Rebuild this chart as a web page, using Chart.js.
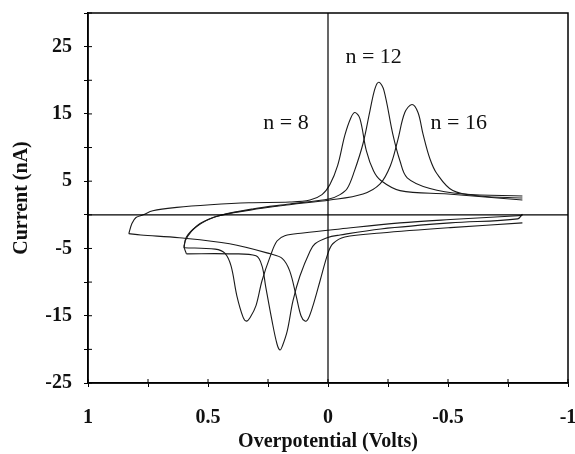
<!DOCTYPE html>
<html>
<head>
<meta charset="utf-8">
<script src="https://cdn.jsdelivr.net/npm/chart.js@4"></script>
<style>
  html, body { margin: 0; padding: 0; background: #fff; }
  #wrap { width: 575px; height: 454px; }
</style>
</head>
<body>
<div id="wrap"><canvas id="cv"></canvas></div>
<script>
// Cyclic voltammograms (overpotential V, current nA)
// each scan is kept as an upper (oxidation) and a lower (reduction) branch

// n = 8
const n8UpV = [0.83, 0.817, 0.80, 0.77, 0.73, 0.63, 0.49, 0.33, 0.16, 0.075, 0.025, -0.008, -0.04, -0.07, -0.095, -0.1125,
               -0.133, -0.16, -0.19, -0.22, -0.30, -0.50, -0.81];
const n8UpI = [-2.8, -1.3, -0.4, 0.0, 0.6, 1.1, 1.5, 1.8, 1.9, 2.2, 3.0, 4.5, 7.3, 11.8, 14.4, 15.2,
               14.3, 9.5, 6.5, 5.1, 3.6, 3.1, 2.2];
const n8DnV = [-0.81, -0.51, -0.22, -0.07, -0.02, 0.0, 0.033, 0.0625, 0.083, 0.096, 0.1125, 0.133, 0.16, 0.19, 0.24, 0.41, 0.62, 0.78, 0.83];
const n8DnI = [-1.2, -1.9, -2.7, -3.3, -4.3, -5.7, -9.8, -13.5, -15.5, -15.8, -15.0, -12.0, -8.3, -6.5, -5.8, -4.3, -3.4, -3.0, -2.8];

// n = 12
const n12UpV = [0.59, 0.60, 0.583, 0.533, 0.45, 0.31, 0.16, -0.008, -0.05, -0.08, -0.11, -0.146, -0.175, -0.196, -0.2125,
                -0.233, -0.27, -0.30, -0.33, -0.425, -0.5625, -0.81];
const n12UpI = [-5.8, -4.6, -3.1, -1.3, -0.1, 0.9, 1.6, 2.4, 3.0, 3.9, 6.5, 10.6, 15.5, 18.8, 19.7,
                18.5, 12.0, 8.0, 5.5, 3.9, 3.1, 2.8];
const n12DnV = [-0.81, -0.79, -0.51, -0.22, -0.05, 0.004, 0.054, 0.075, 0.117, 0.146, 0.17, 0.19, 0.20, 0.2125, 0.233, 0.26, 0.275, 0.30, 0.41, 0.59];
const n12DnI = [0.1, -0.6, -1.2, -2.1, -3.0, -3.4, -4.3, -5.4, -9.1, -12.8, -17.3, -19.5, -20.1, -19.2, -15.8, -10.6, -7.6, -6.1, -5.8, -5.8];

// n = 16
const n16UpV = [0.60, 0.59, 0.55, 0.47, 0.325, 0.16, -0.008, -0.146, -0.217, -0.26, -0.29, -0.32, -0.35,
                -0.375, -0.396, -0.425, -0.454, -0.52, -0.633, -0.81];
const n16UpI = [-4.9, -3.3, -1.8, -0.3, 0.7, 1.5, 2.2, 3.1, 4.6, 7.3, 11.0, 15.2, 16.4,
                15.2, 12.0, 8.3, 6.1, 3.6, 2.8, 2.5];
const n16DnV = [-0.81, -0.51, -0.30, -0.05, 0.104, 0.18, 0.2125, 0.24, 0.275, 0.30, 0.325, 0.34, 0.354, 0.38, 0.404, 0.43, 0.47, 0.60];
const n16DnI = [-0.1, -0.7, -1.2, -2.1, -2.7, -3.1, -3.9, -6.1, -9.8, -13.5, -15.3, -15.8, -15.2, -12.0, -7.6, -5.7, -5.1, -4.9];

// curve labels, placed in data units
const labelText = ['n = 8', 'n = 12', 'n = 16'];
const labelV = [0.175, -0.19, -0.545];
const labelI = [13.6, 23.4, 13.6];

const xMin = -1, xMax = 1, yMin = -25, yMax = 30;

function pts(vs, is) {
  return vs.map((v, k) => ({ x: v, y: is[k] }));
}

function curve(vs, is) {
  return {
    data: pts(vs, is),
    showLine: true,
    borderColor: '#1a1a1a',
    borderWidth: 1.1,
    pointRadius: 0,
    tension: 0.35,
    fill: false
  };
}

function guide(data) {
  return {
    data: data,
    showLine: true,
    borderColor: '#000',
    borderWidth: 1.2,
    pointRadius: 0,
    tension: 0,
    fill: false
  };
}

// frame, inner tick marks and curve labels
const decor = {
  id: 'decor',
  afterDraw(chart) {
    const { ctx, chartArea: a, scales } = chart;
    ctx.save();
    ctx.strokeStyle = '#000';
    ctx.lineWidth = 1.5;
    ctx.strokeRect(a.left, a.top, a.right - a.left, a.bottom - a.top);

    ctx.lineWidth = 1;
    ctx.beginPath();
    scales.x.ticks.forEach(t => {
      const px = scales.x.getPixelForValue(t.value);
      ctx.moveTo(px, a.bottom);
      ctx.lineTo(px, a.bottom - 4);
    });
    scales.y.ticks.forEach(t => {
      const py = scales.y.getPixelForValue(t.value);
      ctx.moveTo(a.left, py);
      ctx.lineTo(a.left + 4, py);
    });
    ctx.stroke();

    ctx.fillStyle = '#111';
    ctx.font = '22px "Liberation Serif", "Times New Roman", serif';
    ctx.textAlign = 'center';
    ctx.textBaseline = 'middle';
    labelText.forEach((s, k) => {
      ctx.fillText(s, scales.x.getPixelForValue(labelV[k]), scales.y.getPixelForValue(labelI[k]));
    });
    ctx.restore();
  }
};

const tickFont = { family: '"Liberation Serif", "Times New Roman", serif', size: 20, weight: 'bold' };

new Chart(document.getElementById('cv'), {
  type: 'scatter',
  data: {
    datasets: [
      guide([{ x: 0, y: yMin }, { x: 0, y: yMax }]),
      guide([{ x: xMax, y: 0 }, { x: xMin, y: 0 }]),
      curve(n8UpV, n8UpI),
      curve(n8DnV, n8DnI),
      curve(n12UpV, n12UpI),
      curve(n12DnV, n12DnI),
      curve(n16UpV, n16UpI),
      curve(n16DnV, n16DnI)
    ]
  },
  options: {
    responsive: true,
    maintainAspectRatio: false,
    animation: false,
    layout: { padding: { top: 13, right: 7, left: 0, bottom: 0 } },
    plugins: {
      legend: { display: false },
      tooltip: { enabled: false }
    },
    scales: {
      x: {
        type: 'linear',
        reverse: true,
        min: xMin,
        max: xMax,
        border: { display: true, color: '#000', width: 1.5 },
        grid: { drawOnChartArea: false, drawTicks: true, tickLength: 4, color: '#000' },
        ticks: {
          stepSize: 0.25,
          autoSkip: false,
          maxRotation: 0,
          padding: 19,
          color: '#111',
          font: tickFont,
          callback: v => (Math.abs(v * 2 - Math.round(v * 2)) < 1e-6 ? String(v) : '')
        },
        title: {
          display: true,
          text: 'Overpotential (Volts)',
          color: '#111',
          padding: { top: 0, bottom: 0 },
          font: tickFont
        },
        afterFit(scale) {
          scale.height = 71;
          scale.paddingLeft = 0;
          scale.paddingRight = 0;
        }
      },
      y: {
        type: 'linear',
        min: yMin,
        max: yMax,
        border: { display: true, color: '#000', width: 1.5 },
        grid: { drawOnChartArea: false, drawTicks: true, tickLength: 4, color: '#000' },
        ticks: {
          stepSize: 5,
          autoSkip: false,
          padding: 12,
          color: '#111',
          font: tickFont,
          callback: v => ((v + 25) % 10 === 0 ? String(v) : '')
        },
        title: {
          display: true,
          text: 'Current (nA)',
          color: '#111',
          padding: { top: 10, bottom: 0 },
          font: tickFont
        },
        afterFit(scale) {
          scale.width = 88;
          scale.paddingTop = 0;
          scale.paddingBottom = 0;
        }
      }
    }
  },
  plugins: [decor]
});
</script>
</body>
</html>
